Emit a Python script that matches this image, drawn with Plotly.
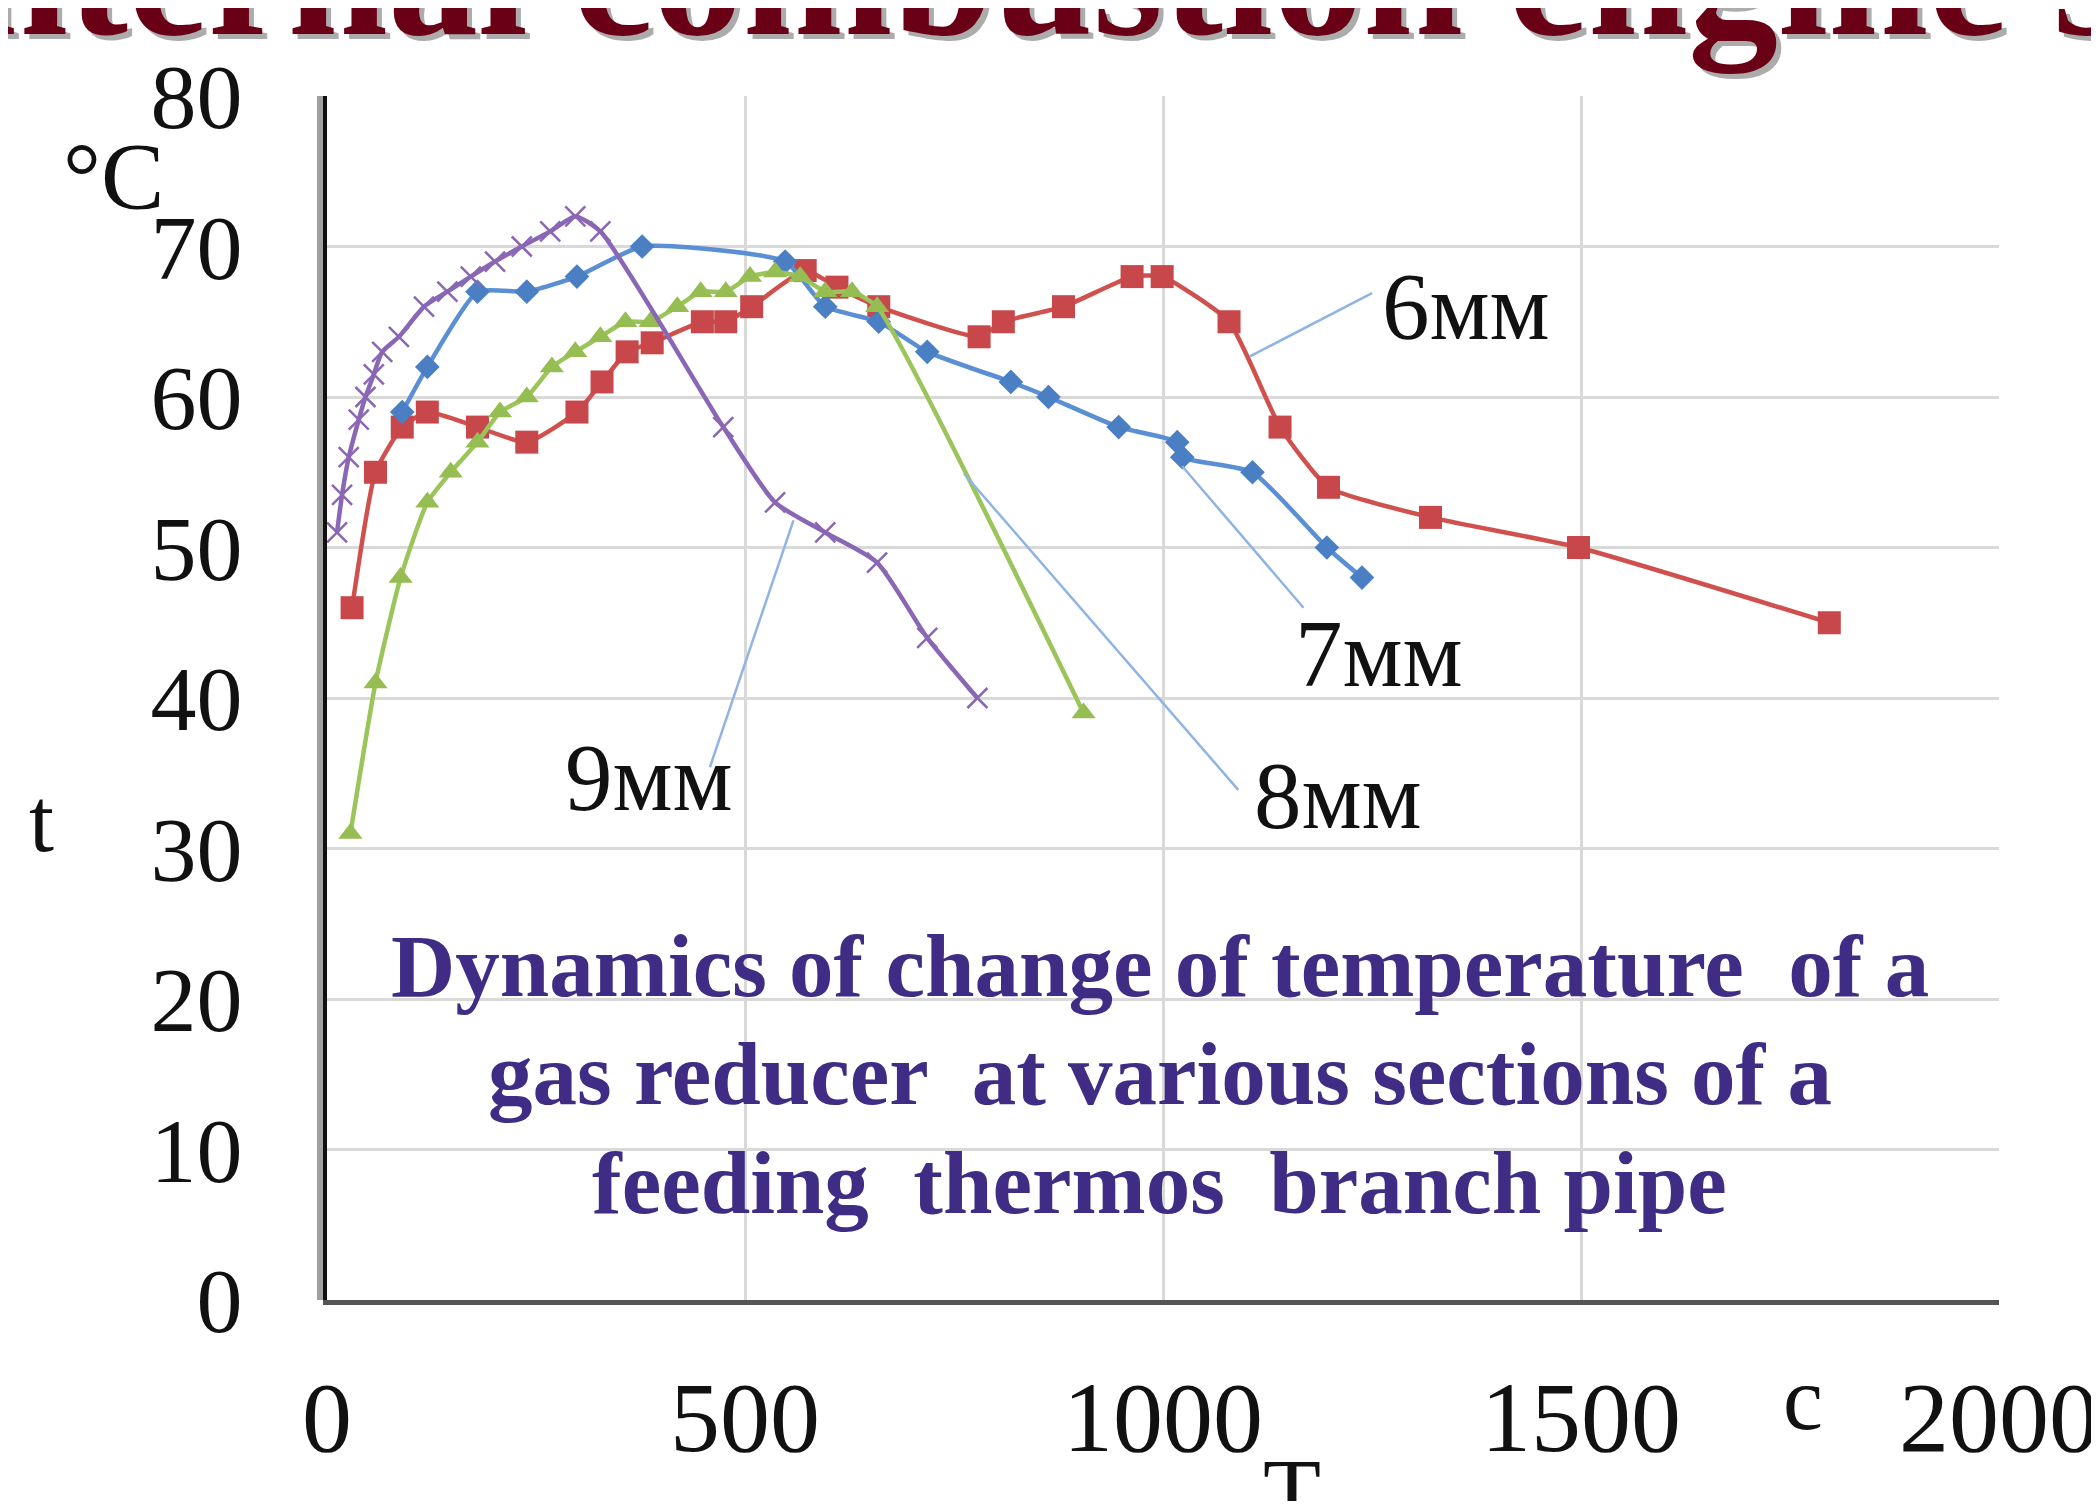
import plotly.graph_objects as go

# ---- data ----
x_6mm = [30, 58, 90, 120, 180, 239, 299, 329, 359, 389, 449, 477, 508, 572, 610, 660,
         780, 809, 881, 963, 999, 1079, 1140, 1198, 1320, 1497, 1797]
y_6mm = [46, 55, 58, 59, 58, 57, 59, 61, 63, 63.6, 65, 65, 66, 68.4, 67.3, 66,
         64, 65, 66, 68, 68, 65, 58, 54, 52, 50, 45]

x_7mm = [90, 120, 180, 239, 299, 377, 548, 596, 660, 718, 818, 863, 947, 1017, 1023,
         1107, 1196, 1238]
y_7mm = [59, 62, 67, 67, 68, 70, 69, 66, 65, 63, 61, 60, 58, 57, 56, 55, 50, 48]

x_8mm = [28, 58, 88, 120, 148, 180, 207, 239, 269, 297, 327, 357, 387, 419, 447, 477,
         506, 536, 566, 596, 628, 658, 905]
y_8mm = [31, 41, 48, 53, 55, 57, 59, 60, 62, 63, 64, 65, 65, 66, 67, 67,
         68, 68.3, 68, 67, 67, 66, 39]

x_9mm = [12, 18, 26, 38, 46, 56, 66, 86, 116, 144, 172, 201, 233, 267, 297, 327,
         474, 536, 596, 658, 718, 778]
y_9mm = [51, 53.5, 56, 58.5, 60, 61.5, 63, 64, 66, 67, 68, 69, 70, 71, 72, 71,
         58, 53, 51, 49, 44, 40]

x_ticks = [0, 500, 1000, 1500, 2000]
y_ticks = [0, 10, 20, 30, 40, 50, 60, 70, 80]

series_labels = ["6мм", "7мм", "8мм", "9мм"]
label_pos = [(1259, 66.0), (1155, 42.9), (1107, 33.5), (282, 34.7)]
leader_lines = [((1104, 62.7), (1250, 66.9)),
                ((1023, 55.4), (1168, 46.0)),
                ((762, 54.9), (1090, 33.9)),
                ((558, 51.8), (458, 35.4))]

title_top = "internal combustion engine s"
inner_lines = ["Dynamics of change of temperature  of a",
               "gas reducer  at various sections of a",
               "feeding  thermos  branch pipe"]
inner_line_y = [22.2, 15.0, 7.8]

SERIF = "Liberation Serif, Times New Roman, serif"

fig = go.Figure()

fig.add_trace(go.Scatter(
    x=x_6mm, y=y_6mm, mode="lines+markers", name="6мм",
    line=dict(color="#d0504d", width=4.5, shape="spline", smoothing=0.5),
    marker=dict(symbol="square", size=23, color="#c8474a"),
))
fig.add_trace(go.Scatter(
    x=x_7mm, y=y_7mm, mode="lines+markers", name="7мм",
    line=dict(color="#5b8fd3", width=4.5, shape="spline", smoothing=0.5),
    marker=dict(symbol="diamond", size=19, color="#4a7fc4"),
))
fig.add_trace(go.Scatter(
    x=x_8mm, y=y_8mm, mode="lines+markers", name="8мм",
    line=dict(color="#9bc45a", width=4.5, shape="spline", smoothing=0.5),
    marker=dict(symbol="triangle-up", size=21, color="#95bd52"),
))
fig.add_trace(go.Scatter(
    x=x_9mm, y=y_9mm, mode="lines+markers", name="9мм",
    line=dict(color="#8a67b5", width=4.5, shape="spline", smoothing=0.6),
    marker=dict(symbol="x-thin-open", size=20,
                line=dict(color="#a892cc", width=2.5)),
))

# leader lines
for (a, b) in leader_lines:
    fig.add_shape(type="line", xref="x", yref="y",
                  x0=a[0], y0=a[1], x1=b[0], y1=b[1],
                  line=dict(color="#8fb4e3", width=2.5), layer="above")

# series labels
for txt, (lx, ly) in zip(series_labels, label_pos):
    fig.add_annotation(x=lx, y=ly, xref="x", yref="y", text=txt,
                       showarrow=False, xanchor="left", yanchor="middle",
                       font=dict(family=SERIF, size=95, color="#111111"))

# inner description, one annotation per line
for txt, ly in zip(inner_lines, inner_line_y):
    fig.add_annotation(x=996, y=ly, xref="x", yref="y", text=txt,
                       showarrow=False, xanchor="center", yanchor="middle",
                       font=dict(family=SERIF, size=89, color="#3f2d85",
                                 weight="bold"))

# axis titles as free text (paper coordinates so they can sit outside the axes)
fig.add_annotation(x=-0.1275, y=0.933, xref="paper", yref="paper", text="°C",
                   showarrow=False, xanchor="center", yanchor="middle",
                   font=dict(family=SERIF, size=95, color="#111111"))
fig.add_annotation(x=-0.1708, y=0.398, xref="paper", yref="paper", text="t",
                   showarrow=False, xanchor="center", yanchor="middle",
                   font=dict(family=SERIF, size=90, color="#111111"))
fig.add_annotation(x=0.8828, y=-0.0814, xref="paper", yref="paper", text="c",
                   showarrow=False, xanchor="center", yanchor="middle",
                   font=dict(family=SERIF, size=90, color="#111111"))
fig.add_annotation(x=0.5772, y=-0.1150, xref="paper", yref="paper", text="T",
                   showarrow=False, xanchor="center", yanchor="top",
                   font=dict(family=SERIF, size=95, color="#111111"))

# cropped page title with shadow
fig.add_annotation(x=0.4175, y=1.1012 - 0.004,
                   xref="paper", yref="paper", text=title_top,
                   showarrow=False, xanchor="center", yanchor="middle",
                   font=dict(family=SERIF, size=180, color="rgba(90,90,90,0.5)",
                             weight="bold"))
fig.add_annotation(x=0.415, y=1.1012,
                   xref="paper", yref="paper", text=title_top,
                   showarrow=False, xanchor="center", yanchor="middle",
                   font=dict(family=SERIF, size=180, color="#6a0016",
                             weight="bold"))

# shadow beside left axis
fig.add_shape(type="line", xref="paper", yref="paper",
              x0=-0.0042, x1=-0.0042, y0=0, y1=1,
              line=dict(color="#a0a0a0", width=6), layer="below")

fig.update_layout(
    width=2083, height=1493,
    margin=dict(l=319, r=92, t=88, b=201, pad=0),
    paper_bgcolor="white", plot_bgcolor="white",
    showlegend=False,
    font=dict(family=SERIF, color="#111111"),
)
fig.update_xaxes(range=[0, 2000], tickvals=x_ticks, showgrid=True,
                 gridcolor="#d9d9d9", gridwidth=3, zeroline=False,
                 showline=True, linecolor="#555555", linewidth=5,
                 ticks="", ticklabelstandoff=26, automargin=False,
                 ticklabeloverflow="allow",
                 tickfont=dict(family=SERIF, size=100, color="#111111"))
fig.update_yaxes(range=[0, 80], tickvals=y_ticks, showgrid=True,
                 gridcolor="#d9d9d9", gridwidth=3, zeroline=False,
                 showline=True, linecolor="#111111", linewidth=4,
                 ticks="", ticklabelstandoff=62, automargin=False,
                 ticklabeloverflow="allow",
                 tickfont=dict(family=SERIF, size=92, color="#111111"))

fig.write_html("out.html")
